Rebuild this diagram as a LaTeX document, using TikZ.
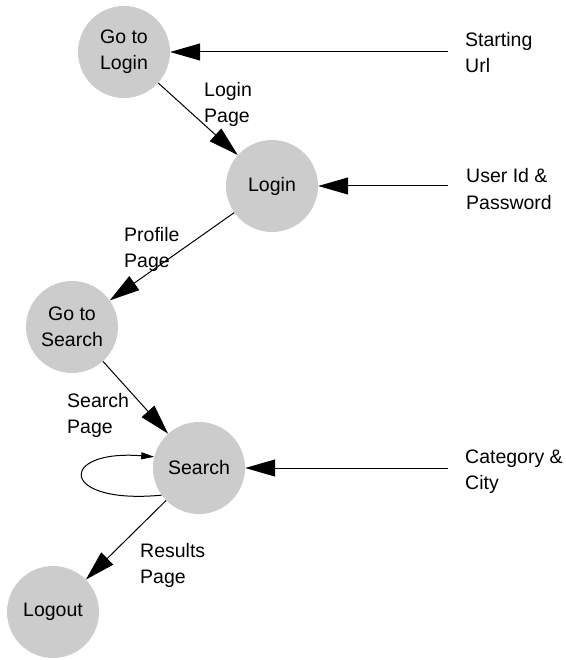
\documentclass[tikz,border=0pt]{standalone}
\usepackage{fontspec}
\setmainfont{Liberation Sans}
\usetikzlibrary{arrows.meta}
\definecolor{circgray}{RGB}{204,204,204}
\begin{document}
\begin{tikzpicture}[x=1pt,y=-1pt,
  state/.style={circle,fill=circgray,draw=none,minimum size=92pt,inner sep=0pt,align=center,font=\fontsize{19.5}{26}\selectfont},
  lbl/.style={align=left,inner sep=0pt,anchor=base west,font=\fontsize{19.5}{26}\selectfont},
  bigarrow/.style={-{Triangle[length=30pt,width=17pt]},line width=1pt},
  smallarrow/.style={-{Triangle[length=13pt,width=7pt]},line width=1pt}
]
\useasboundingbox (0,0) rectangle (565,660);
\node[state] (gl) at (124,52) {Go to\\Login};
\node[state] (login) at (272,186) {Login};
\node[state] (gs) at (72,327) {Go to\\Search};
\node[state] (search) at (199,468) {Search};
\node[state] (logout) at (53,612) {Logout};

\node[lbl] (t1) at (465,73) {Starting\\Url};
\node[lbl] (t2) at (466,209) {User Id \&\\Password};
\node[lbl] (t3) at (465,489) {Category \&\\City};
\node[lbl] (l1) at (204,123) {Login\\Page};
\node[lbl] (l2) at (124,267) {Profile\\Page};
\node[lbl] (l3) at (67,433) {Search\\Page};
\node[lbl] (l4) at (140,583) {Results\\Page};

\coordinate (s1) at (448,52);
\coordinate (s2) at (448,186);
\coordinate (s3) at (448,468);

\draw[bigarrow] (s1) -- (gl);
\draw[bigarrow] (s2) -- (login);
\draw[bigarrow] (s3) -- (search);
\draw[bigarrow] (gl) -- (login);
\draw[bigarrow] (login) -- (gs);
\draw[bigarrow] (gs) -- (search);
\draw[bigarrow] (search) -- (logout);
\draw[smallarrow] (search.216) .. controls (58,505) and (58,449) .. (search.166);
\end{tikzpicture}
\end{document}
